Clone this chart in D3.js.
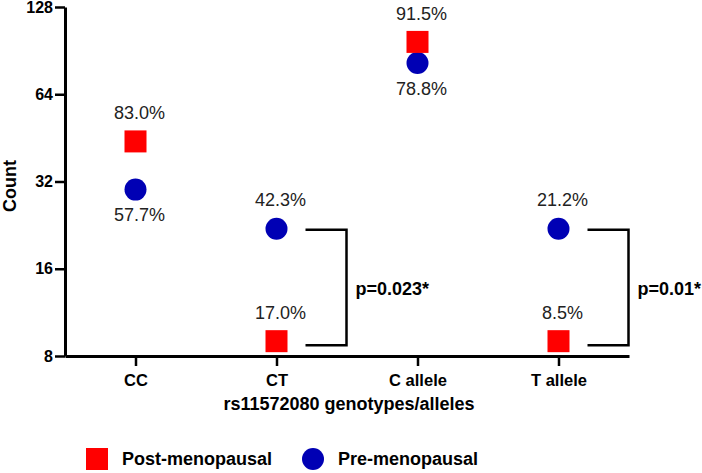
<!DOCTYPE html>
<html>
<head>
<meta charset="utf-8">
<script src="https://cdn.jsdelivr.net/npm/d3@7"></script>
<style>
  body { margin: 0; background: #fff; }
  text { font-family: "Liberation Sans", Arial, sans-serif; }
</style>
</head>
<body>
<div id="chart"></div>
<script>
// values
const categories = ["CC", "CT", "C allele", "T allele"];
const postCounts = [44, 9, 97, 9];
const preCounts = [30, 22, 82, 22];
const postPct = ["83.0%", "17.0%", "91.5%", "8.5%"];
const prePct = ["57.7%", "42.3%", "78.8%", "21.2%"];
const preLabelSide = ["below", "above", "below", "above"];
const yTicks = [8, 16, 32, 64, 128];
const pTests = [
    { cat: "CT", text: "p=0.023*" },
    { cat: "T allele", text: "p=0.01*" }
];

const width = 702;
const height = 473;
const red = "#ff0000";
const blue = "#0000b4";

const svg = d3.select("#chart")
    .append("svg")
    .attr("width", width)
    .attr("height", height);

const x = d3.scalePoint()
    .domain(categories)
    .range([65, 629])
    .padding(0.5);

const y = d3.scaleLog()
    .base(2)
    .domain([8, 128])
    .range([356, 7]);

// y axis
const yAxis = svg.append("g")
    .attr("transform", "translate(65,0)")
    .call(d3.axisLeft(y).tickValues(yTicks).tickFormat(d3.format("d")).tickSize(10).tickSizeOuter(0));
yAxis.select(".domain").attr("stroke-width", 3);
yAxis.selectAll(".tick line").attr("stroke-width", 2.5);
yAxis.selectAll(".tick text")
    .attr("x", -12)
    .style("font-size", "16px")
    .style("font-weight", "bold")
    .attr("fill", "#000");

// x axis
const xAxis = svg.append("g")
    .attr("transform", "translate(0,356)")
    .call(d3.axisBottom(x).tickSize(10).tickSizeOuter(0));
xAxis.select(".domain").attr("stroke-width", 3);
xAxis.selectAll(".tick line").attr("stroke-width", 2.5);
xAxis.selectAll(".tick text")
    .attr("y", 18)
    .style("font-size", "16.5px")
    .style("font-weight", "bold")
    .attr("fill", "#000");

svg.append("text")
    .attr("x", 349)
    .attr("y", 410)
    .attr("text-anchor", "middle")
    .style("font-size", "18px")
    .style("font-weight", "bold")
    .text("rs11572080 genotypes/alleles");

svg.append("text")
    .attr("transform", "translate(16,186) rotate(-90)")
    .attr("text-anchor", "middle")
    .style("font-size", "18px")
    .style("font-weight", "bold")
    .text("Count");

// significance brackets
pTests.forEach(p => {
    const i = categories.indexOf(p.cat);
    const cx = x(p.cat);
    const yTop = y(preCounts[i]) + 1;
    const yBot = y(postCounts[i]) + 4;
    const x0 = cx + 29, x1 = cx + 70;
    svg.append("path")
        .attr("d", `M${x0},${yTop}H${x1}V${yBot}H${x0}`)
        .attr("fill", "none")
        .attr("stroke", "#000")
        .attr("stroke-width", 2.5);
    svg.append("text")
        .attr("x", x1 + 9)
        .attr("y", (yTop + yBot) / 2 + 3)
        .attr("dominant-baseline", "middle")
        .style("font-size", "18px")
        .style("font-weight", "bold")
        .text(p.text);
});

// pre-menopausal circles
svg.selectAll(".pre")
    .data(categories)
    .enter()
    .append("circle")
    .attr("class", "pre")
    .attr("cx", d => x(d))
    .attr("cy", (d, i) => y(preCounts[i]))
    .attr("r", 11)
    .attr("fill", blue);

// post-menopausal squares
svg.selectAll(".post")
    .data(categories)
    .enter()
    .append("rect")
    .attr("class", "post")
    .attr("x", d => x(d) - 11)
    .attr("y", (d, i) => y(postCounts[i]) - 11)
    .attr("width", 22)
    .attr("height", 22)
    .attr("fill", red);

// percentage labels
svg.selectAll(".postLabel")
    .data(categories)
    .enter()
    .append("text")
    .attr("x", d => x(d) + 4)
    .attr("y", (d, i) => y(postCounts[i]) - 27)
    .attr("text-anchor", "middle")
    .attr("dominant-baseline", "middle")
    .attr("fill", "#222")
    .style("font-size", "18px")
    .text((d, i) => postPct[i]);

svg.selectAll(".preLabel")
    .data(categories)
    .enter()
    .append("text")
    .attr("x", d => x(d) + 4)
    .attr("y", (d, i) => y(preCounts[i]) + (preLabelSide[i] == "above" ? -27 : 27))
    .attr("text-anchor", "middle")
    .attr("dominant-baseline", "middle")
    .attr("fill", "#222")
    .style("font-size", "18px")
    .text((d, i) => prePct[i]);

// legend
const legend = svg.append("g");
legend.append("rect")
    .attr("x", 86).attr("y", 448)
    .attr("width", 22).attr("height", 22)
    .attr("fill", red);
legend.append("text")
    .attr("x", 122).attr("y", 460)
    .attr("dominant-baseline", "middle")
    .style("font-size", "18px")
    .style("font-weight", "bold")
    .text("Post-menopausal");
legend.append("circle")
    .attr("cx", 313).attr("cy", 459)
    .attr("r", 11)
    .attr("fill", blue);
legend.append("text")
    .attr("x", 338).attr("y", 460)
    .attr("dominant-baseline", "middle")
    .style("font-size", "18px")
    .style("font-weight", "bold")
    .text("Pre-menopausal");
</script>
</body>
</html>
